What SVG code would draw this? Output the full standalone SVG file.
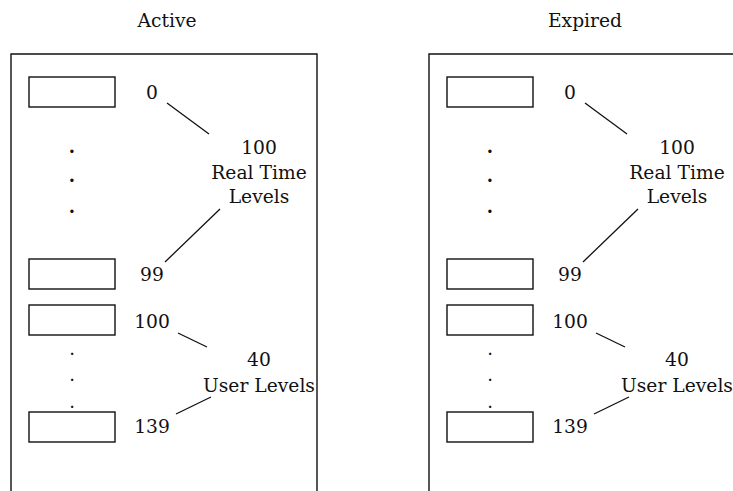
<svg xmlns="http://www.w3.org/2000/svg" width="733" height="491" viewBox="0 0 733 491">
  <style>
    .frame { fill: none; stroke: #111; stroke-width: 1.4; }
    .slot { fill: #fff; stroke: #111; stroke-width: 1.4; }
    .lbl { font-family: "DejaVu Serif", "Liberation Serif", serif; font-size: 18.7px; fill: #111; text-anchor: middle; }
    .dot { font-family: "DejaVu Serif", "Liberation Serif", serif; font-size: 18px; fill: #111; text-anchor: middle; }
    .big { font-weight: bold; }
    .conn line { stroke: #111; stroke-width: 1.3; }
  </style>
  <rect width="733" height="491" fill="#fff"/>

  <!-- Active priority array -->
  <g id="active" transform="translate(0,0)">
    <text class="lbl" x="167" y="27">Active</text>
    <path class="frame" d="M11,492 V54 H317 V492"/>
    <g id="active-slot-0"><rect class="slot" x="29" y="77" width="86" height="30"/><text class="lbl" x="152" y="99">0</text></g>
    <g id="active-slot-99"><rect class="slot" x="29" y="259" width="86" height="30"/><text class="lbl" x="152" y="281">99</text></g>
    <g id="active-slot-100"><rect class="slot" x="29" y="305" width="86" height="30"/><text class="lbl" x="152" y="328">100</text></g>
    <g id="active-slot-139"><rect class="slot" x="29" y="412" width="86" height="30"/><text class="lbl" x="152" y="433">139</text></g>
    <g id="active-rt-dots"><text class="dot big" x="72" y="153">.</text><text class="dot big" x="72" y="182">.</text><text class="dot big" x="72" y="213">.</text></g>
    <g id="active-user-dots"><text class="dot" x="72" y="355">.</text><text class="dot" x="72" y="381">.</text><text class="dot" x="72" y="408">.</text></g>
    <g id="active-rt-label"><text class="lbl" x="259" y="154">100</text><text class="lbl" x="259" y="179">Real Time</text><text class="lbl" x="259" y="203">Levels</text></g>
    <g id="active-user-label"><text class="lbl" x="259" y="366">40</text><text class="lbl" x="259" y="392">User Levels</text></g>
    <g id="active-connectors" class="conn">
      <line x1="167" y1="103" x2="209" y2="134"/>
      <line x1="220" y1="209" x2="165" y2="262"/>
      <line x1="178" y1="333" x2="207" y2="347"/>
      <line x1="211" y1="397" x2="176" y2="414"/>
    </g>
  </g>

  <!-- Expired priority array -->
  <g id="expired" transform="translate(418,0)">
    <text class="lbl" x="167" y="27">Expired</text>
    <path class="frame" d="M11,492 V54 H317 V492"/>
    <g id="expired-slot-0"><rect class="slot" x="29" y="77" width="86" height="30"/><text class="lbl" x="152" y="99">0</text></g>
    <g id="expired-slot-99"><rect class="slot" x="29" y="259" width="86" height="30"/><text class="lbl" x="152" y="281">99</text></g>
    <g id="expired-slot-100"><rect class="slot" x="29" y="305" width="86" height="30"/><text class="lbl" x="152" y="328">100</text></g>
    <g id="expired-slot-139"><rect class="slot" x="29" y="412" width="86" height="30"/><text class="lbl" x="152" y="433">139</text></g>
    <g id="expired-rt-dots"><text class="dot big" x="72" y="153">.</text><text class="dot big" x="72" y="182">.</text><text class="dot big" x="72" y="213">.</text></g>
    <g id="expired-user-dots"><text class="dot" x="72" y="355">.</text><text class="dot" x="72" y="381">.</text><text class="dot" x="72" y="408">.</text></g>
    <g id="expired-rt-label"><text class="lbl" x="259" y="154">100</text><text class="lbl" x="259" y="179">Real Time</text><text class="lbl" x="259" y="203">Levels</text></g>
    <g id="expired-user-label"><text class="lbl" x="259" y="366">40</text><text class="lbl" x="259" y="392">User Levels</text></g>
    <g id="expired-connectors" class="conn">
      <line x1="167" y1="103" x2="209" y2="134"/>
      <line x1="220" y1="209" x2="165" y2="262"/>
      <line x1="178" y1="333" x2="207" y2="347"/>
      <line x1="211" y1="397" x2="176" y2="414"/>
    </g>
  </g>
</svg>
